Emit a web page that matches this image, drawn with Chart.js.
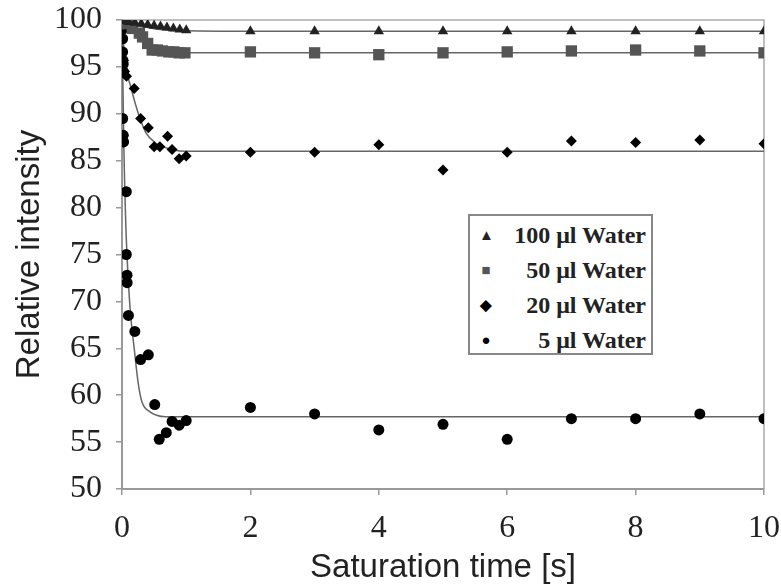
<!DOCTYPE html>
<html>
<head>
<meta charset="utf-8">
<script src="https://cdn.jsdelivr.net/npm/chart.js@4.4.1/dist/chart.umd.min.js"></script>
<style>
  body { margin: 0; background: #fff; }
  #wrap { position: relative; width: 781px; height: 585px; }
  #legend {
    position: absolute; left: 468px; top: 214px; width: 181px; height: 137px;
    border: 2px solid #888; background: #fff;
    font-family: "Liberation Serif", serif; font-weight: bold; font-size: 24px; color: #222;
  }
  .row { position: absolute; left: 0; right: 5px; height: 30px; line-height: 30px; text-align: right; }
  .sym { position: absolute; left: 9px; top: 0; width: 14px; text-align: center; font-size: 15px; }
</style>
</head>
<body>
<div id="wrap">
  <canvas id="myChart" width="781" height="585"></canvas>
  <div id="legend"></div>
</div>
<script>
// series labels
const labels = ['100 μl Water', '50 μl Water', '20 μl Water', '5 μl Water'];

// 100 ul (triangles)
const t100 = [0, 0.02, 0.05, 0.1, 0.2, 0.3, 0.4, 0.5, 0.6, 0.7, 0.8, 0.9, 1, 2, 3, 4, 5, 6, 7, 8, 9, 10];
const v100 = [100, 99.9, 99.9, 99.8, 99.7, 99.6, 99.5, 99.4, 99.3, 99.2, 99.1, 99.0, 98.9, 98.8, 98.8, 98.8, 98.8, 98.8, 98.8, 98.8, 98.8, 98.8];

// 50 ul (squares)
const t50 = [0, 0.02, 0.04, 0.08, 0.16, 0.27, 0.32, 0.4, 0.47, 0.55, 0.63, 0.73, 0.81, 0.89, 0.98, 2, 3, 4, 5, 6, 7, 8, 9, 10];
const v50 = [100, 99.8, 99.7, 99.6, 99.1, 98.6, 98.2, 97.5, 96.8, 96.8, 96.7, 96.6, 96.6, 96.5, 96.5, 96.6, 96.5, 96.3, 96.5, 96.6, 96.7, 96.8, 96.7, 96.5];

// 20 ul (diamonds)
const t20 = [0, 0.01, 0.02, 0.04, 0.07, 0.19, 0.29, 0.41, 0.5, 0.59, 0.71, 0.78, 0.89, 1, 2, 3, 4, 5, 6, 7, 8, 9, 10];
const v20 = [100, 98, 95.7, 94.5, 94.0, 92.7, 89.5, 88.5, 86.5, 86.5, 87.6, 86.2, 85.2, 85.5, 85.9, 85.9, 86.7, 84.0, 85.9, 87.1, 86.95, 87.2, 86.8];

// 5 ul (circles)
const t5 = [0, 0.005, 0.01, 0.01, 0.015, 0.02, 0.02, 0.01, 0.02, 0.025, 0.067, 0.067, 0.078, 0.08, 0.1, 0.2, 0.29, 0.41, 0.51, 0.58, 0.69, 0.78, 0.89, 1, 2, 3, 4, 5, 6, 7, 8, 9, 10];
const v5 = [100, 99, 98, 96.6, 95.7, 95.3, 94.5, 89.5, 87.7, 87.0, 81.7, 75.0, 72.8, 72.0, 68.5, 66.8, 63.8, 64.3, 59.0, 55.3, 56.0, 57.2, 56.8, 57.3, 58.7, 58.0, 56.3, 56.9, 55.3, 57.5, 57.5, 58.0, 57.5];

// fitted curves
const fitT100 = [0, 0.1, 0.2, 0.4, 0.6, 1, 2, 10];
const fitV100 = [100, 99.7, 99.5, 99.2, 99.0, 98.85, 98.8, 98.8];
const fitT50 = [0, 0.1, 0.2, 0.3, 0.4, 0.5, 0.7, 1, 2, 10];
const fitV50 = [100, 99.3, 98.5, 97.8, 97.3, 96.9, 96.6, 96.5, 96.5, 96.5];
const fitT20 = [0, 0.03, 0.06, 0.135, 0.19, 0.27, 0.37, 0.52, 0.78, 1, 10];
const fitV20 = [100, 97, 95.0, 92.9, 91.5, 89.7, 88.0, 86.9, 86.2, 86.0, 86.0];
const fitT5 = [0, 0.03, 0.06, 0.1, 0.135, 0.19, 0.25, 0.31, 0.42, 0.68, 1, 10];
const fitV5 = [100, 86, 78, 72, 68.5, 65, 61.4, 59.3, 58.3, 57.7, 57.7, 57.7];

const xTicks = [0, 2, 4, 6, 8, 10];

function pts(t, v) {
  return t.map((x, i) => ({ x: x, y: v[i] }));
}

const styles = [
  { pointStyle: 'triangle', color: '#222', radius: 6, sym: '▲' },
  { pointStyle: 'rect', color: '#555', radius: 8, sym: '■' },
  { pointStyle: 'rectRot', color: '#000', radius: 5.5, sym: '◆' },
  { pointStyle: 'circle', color: '#000', radius: 5.5, sym: '●' }
];

const series = [[t100, v100], [t50, v50], [t20, v20], [t5, v5]];
const fits = [[fitT100, fitV100], [fitT50, fitV50], [fitT20, fitV20], [fitT5, fitV5]];

let datasets = [];
series.forEach((s, i) => {
  datasets.push({
    label: labels[i],
    data: pts(s[0], s[1]),
    showLine: false,
    pointStyle: styles[i].pointStyle,
    pointRadius: styles[i].radius,
    pointBackgroundColor: styles[i].color,
    pointBorderColor: styles[i].color,
    pointBorderWidth: 0
  });
});
fits.forEach((f) => {
  datasets.push({
    label: 'fit',
    data: pts(f[0], f[1]),
    showLine: true,
    pointRadius: 0,
    borderColor: '#666',
    borderWidth: 1.5,
    cubicInterpolationMode: 'monotone',
    fill: false
  });
});

const frame = {
  id: 'frame',
  beforeDatasetsDraw: (chart) => {
    let ctx = chart.ctx;
    let a = chart.chartArea;
    ctx.save();
    ctx.strokeStyle = '#aaa';
    ctx.lineWidth = 1.5;
    ctx.beginPath();
    ctx.moveTo(a.left, a.top);
    ctx.lineTo(a.right, a.top);
    ctx.lineTo(a.right, a.bottom);
    ctx.stroke();
    ctx.restore();
  }
};

const tickFont = { family: '"Liberation Serif", serif', size: 32 };
const titleFont = { family: '"Liberation Sans", Arial, sans-serif', size: 33 };

var ctx = document.getElementById('myChart').getContext('2d');
let myChart = new Chart(ctx, {
  type: 'scatter',
  data: { datasets: datasets },
  options: {
    responsive: false,
    animation: false,
    layout: { padding: 0 },
    plugins: {
      legend: { display: false },
      tooltip: { enabled: false }
    },
    scales: {
      x: {
        type: 'linear',
        min: 0,
        max: 10,
        afterFit: (s) => { s.height = 96; s.paddingRight = 17; },
        afterBuildTicks: (s) => { s.ticks = xTicks.map(v => ({ value: v })); },
        ticks: { font: tickFont, color: '#222', padding: 14 },
        grid: { drawOnChartArea: false, tickLength: 6, color: '#999', lineWidth: 1.5 },
        border: { color: '#999', width: 2 },
        title: { display: true, text: 'Saturation time [s]', font: titleFont, color: '#222', padding: { top: 0, bottom: -3 } }
      },
      y: {
        type: 'linear',
        min: 50,
        max: 100,
        afterFit: (s) => { s.width = 122; s.paddingTop = 20; },
        ticks: { stepSize: 5, font: tickFont, color: '#222', padding: 14 },
        grid: { drawOnChartArea: false, tickLength: 6, color: '#999', lineWidth: 1.5 },
        border: { color: '#999', width: 2 },
        title: { display: true, text: 'Relative intensity', font: titleFont, color: '#222', padding: { top: 10, bottom: 0 } }
      }
    }
  },
  plugins: [frame]
});

// legend in the box
let legend = document.getElementById('legend');
labels.forEach((l, i) => {
  let row = document.createElement('div');
  row.className = 'row';
  row.style.top = (4 + i * 35) + 'px';
  row.innerHTML = '<span class="sym" style="color:' + styles[i].color + '">' + styles[i].sym + '</span>' + l;
  legend.appendChild(row);
});
</script>
</body>
</html>
